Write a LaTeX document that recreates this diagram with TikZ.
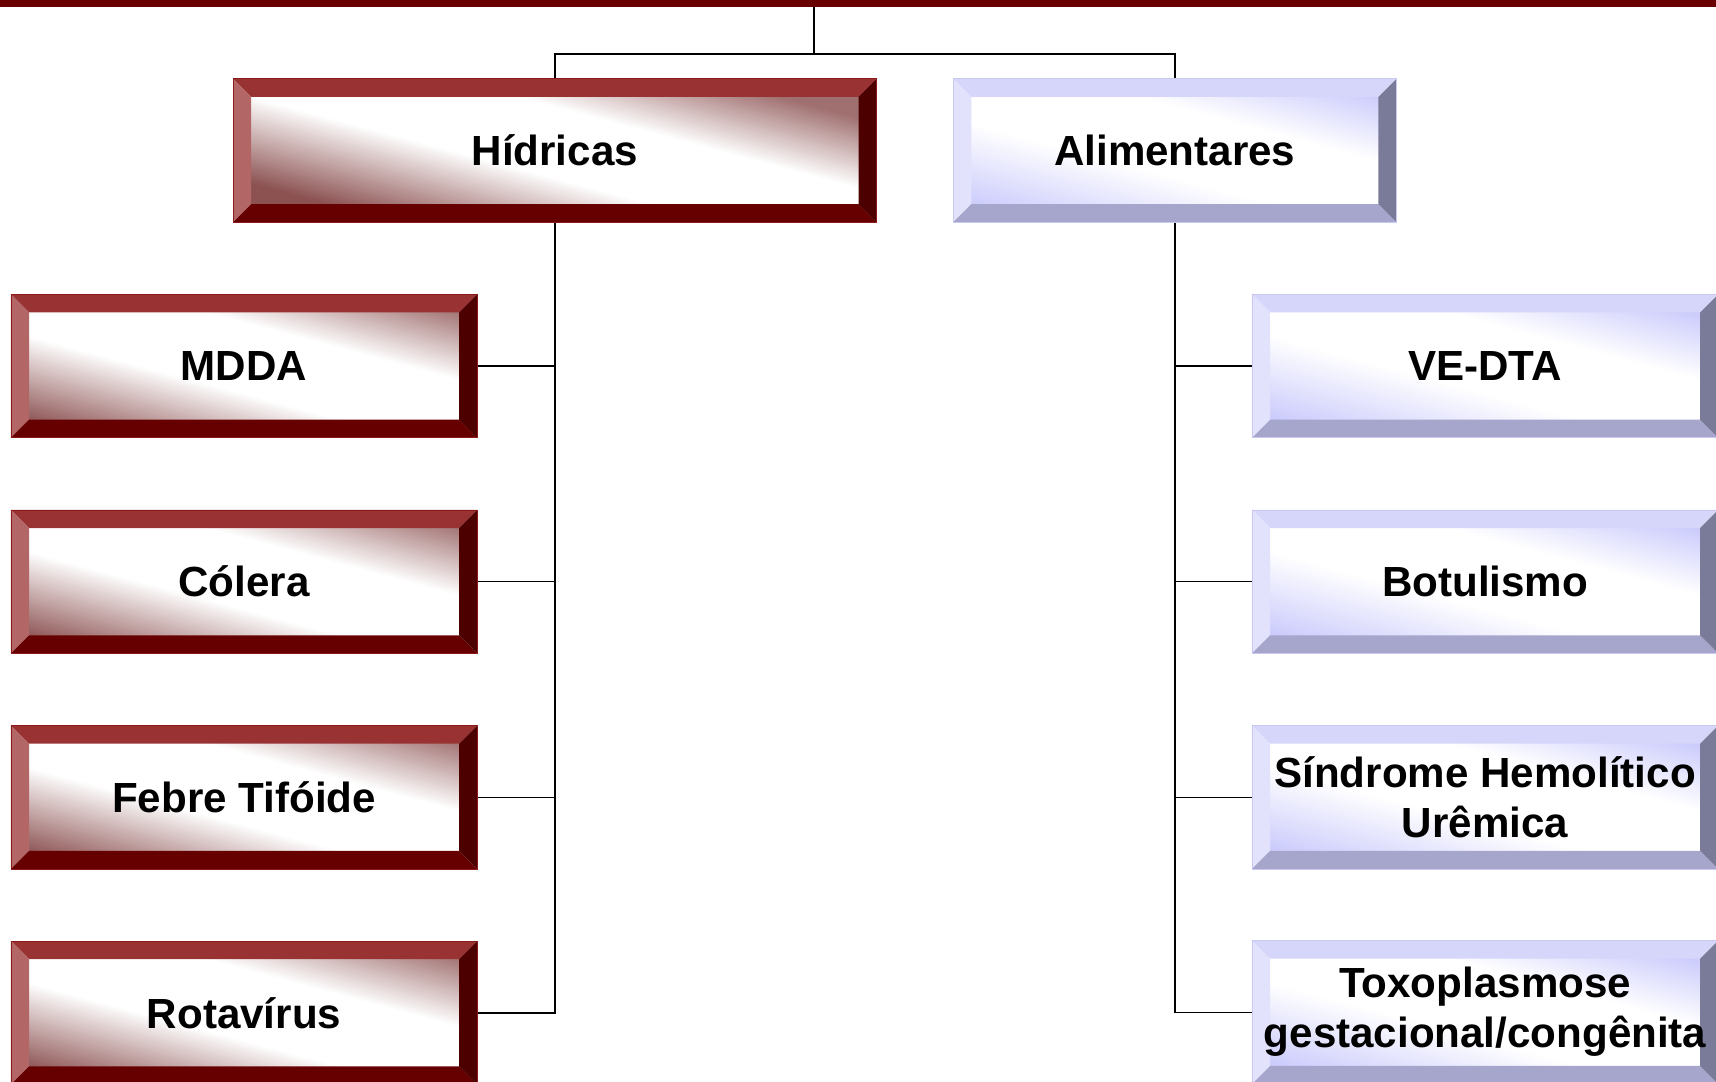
\documentclass[tikz,border=0pt]{standalone}
\usepackage{fontspec}
\setmainfont{Liberation Sans}
\usetikzlibrary{calc}
\definecolor{barred}{RGB}{105,0,0}
\definecolor{rTop}{HTML}{993333}
\definecolor{rLeft}{HTML}{B36666}
\definecolor{rBot}{HTML}{660000}
\definecolor{rRight}{HTML}{4D0000}
\definecolor{rEdge}{HTML}{8C1A1A}
\definecolor{rShA}{RGB}{140,82,82}
\definecolor{rShB}{RGB}{160,112,112}
\definecolor{bTop}{RGB}{214,214,250}
\definecolor{bLeft}{RGB}{226,226,252}
\definecolor{bBot}{RGB}{166,166,204}
\definecolor{bRight}{RGB}{122,122,153}
\definecolor{bEdge}{RGB}{200,200,240}
\definecolor{bSh}{RGB}{200,200,252}
\pgfdeclareverticalshading{redsh}{100bp}{color(0bp)=(rShA); color(29bp)=(rShA); color(45bp)=(white); color(58bp)=(white); color(71bp)=(rShB); color(100bp)=(rShB)}
\pgfdeclareverticalshading{bluesh}{100bp}{color(0bp)=(bSh); color(29bp)=(bSh); color(45bp)=(white); color(58bp)=(white); color(71bp)=(bSh); color(100bp)=(bSh)}
\newcommand{\bvw}{16.5}
\newcommand{\bvh}{120}
\newcommand{\bevelpic}[5]{%
  \coordinate (bvc) at (path picture bounding box.center);
  \begin{scope}
    \clip ($(path picture bounding box.north west)+(\bvw,\bvw)$) rectangle ($(path picture bounding box.south east)+(-\bvw,-\bvw)$);
    \begin{scope}[transform canvas={rotate around={-15:(bvc)}}]
      \shade[shading=#5] ($(bvc)+(-340,-\bvh)$) rectangle ($(bvc)+(340,\bvh)$);
    \end{scope}
  \end{scope}
  \fill[#1] (path picture bounding box.north west) -- (path picture bounding box.north east) -- ($(path picture bounding box.north east)+(-\bvw,\bvw)$) -- ($(path picture bounding box.north west)+(\bvw,\bvw)$) -- cycle;
  \fill[#2] (path picture bounding box.north west) -- ($(path picture bounding box.north west)+(\bvw,\bvw)$) -- ($(path picture bounding box.south west)+(\bvw,-\bvw)$) -- (path picture bounding box.south west) -- cycle;
  \fill[#3] (path picture bounding box.south west) -- ($(path picture bounding box.south west)+(\bvw,-\bvw)$) -- ($(path picture bounding box.south east)+(-\bvw,-\bvw)$) -- (path picture bounding box.south east) -- cycle;
  \fill[#4] (path picture bounding box.south east) -- ($(path picture bounding box.south east)+(-\bvw,-\bvw)$) -- ($(path picture bounding box.north east)+(-\bvw,\bvw)$) -- (path picture bounding box.north east) -- cycle;
}
\begin{document}
\begin{tikzpicture}[x=1pt,y=-1pt,
  boxtext/.style={font=\fontsize{38.5}{46}\selectfont\bfseries, align=center, inner sep=0pt, minimum height=131, text=black},
  rbox/.style={boxtext, draw=rEdge, line width=0.8pt, path picture={\bevelpic{rTop}{rLeft}{rBot}{rRight}{redsh}}},
  bbox/.style={boxtext, draw=bEdge, line width=0.8pt, path picture={\bevelpic{bTop}{bLeft}{bBot}{bRight}{bluesh}}},
  conn/.style={draw=black, line width=1.4pt}]
\useasboundingbox (0,0) rectangle (1568,988);
\clip (0,0) rectangle (1568,988);
\fill[barred] (0,0) rectangle (1568,6.5);
\coordinate (root) at (744,6);
\coordinate (split) at (744,49.5);

\node[rbox, minimum width=588] (hid) at (507,137.5) {Hídricas};
\node[bbox, minimum width=405] (ali) at (1073.5,137.5) {Alimentares};

\node[rbox, minimum width=426] (mdda) at (223,334.5) {MDDA};
\node[rbox, minimum width=426] (col) at (223,531.5) {Cólera};
\node[rbox, minimum width=426] (feb) at (223,728.5) {Febre Tifóide};
\node[rbox, minimum width=426] (rota) at (223,925.5) {Rotavírus};

\node[bbox, minimum width=426] (ve) at (1357,334.5) {VE-DTA};
\node[bbox, minimum width=426] (bot) at (1357,531.5) {Botulismo};
\node[bbox, minimum width=426] (shu) at (1357,728.5) {Síndrome Hemolítico\\Urêmica};
\node[bbox, minimum width=426] (toxo) at (1357,925) {\raisebox{-4pt}{\begin{tabular}{@{}c@{}}Toxoplasmose\\gestacional/congênita\end{tabular}}};

\draw[conn] (root) -- (split);
\draw[conn] (hid.north) |- (split) -| (ali.north);
\draw[conn] (hid.south) |- (rota.east);
\draw[conn] (mdda.east) -- (mdda.east -| hid.south);
\draw[conn] (col.east) -- (col.east -| hid.south);
\draw[conn] (feb.east) -- (feb.east -| hid.south);
\draw[conn] (ali.south) |- (toxo.west);
\draw[conn] (ve.west) -- (ve.west -| ali.south);
\draw[conn] (bot.west) -- (bot.west -| ali.south);
\draw[conn] (shu.west) -- (shu.west -| ali.south);
\end{tikzpicture}
\end{document}
